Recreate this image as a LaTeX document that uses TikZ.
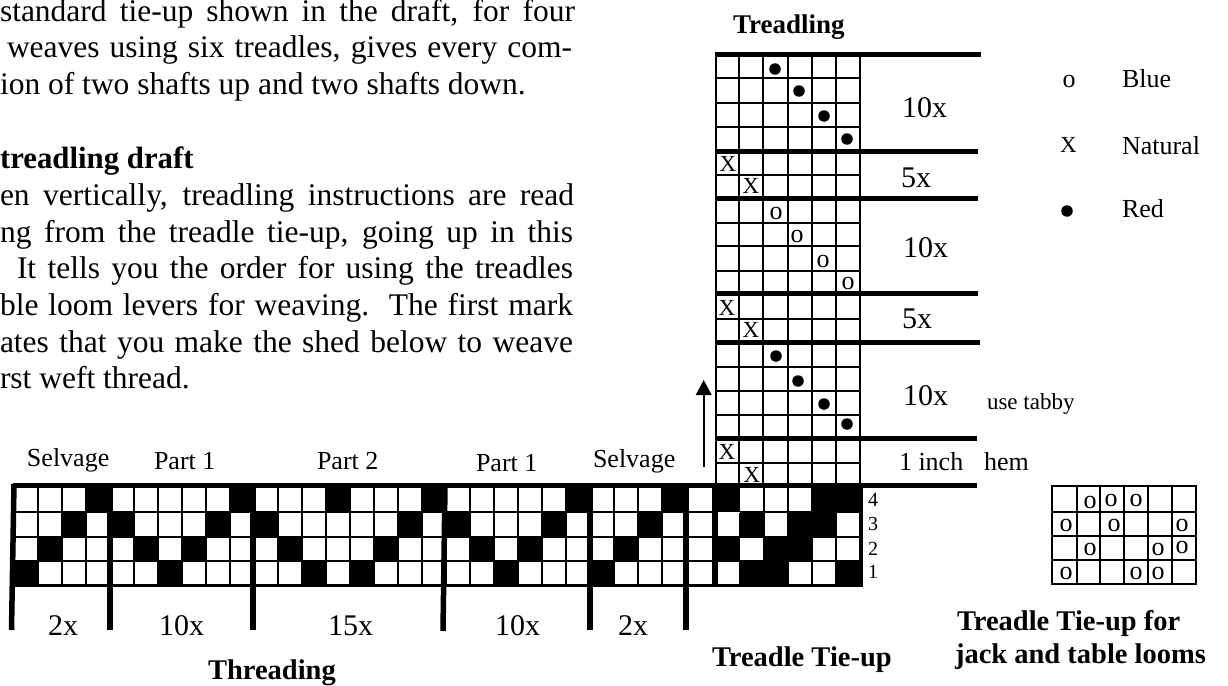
\documentclass[tikz,border=0pt]{standalone}
\usepackage{fontspec}
\setmainfont{Liberation Serif}
\usetikzlibrary{arrows.meta}
\newcommand{\fsz}[1]{\fontsize{#1}{#1}\selectfont}
\newcommand{\jline}[2]{\makebox[#1pt][s]{#2}}
\tikzset{
  txt/.style={anchor=base west,inner sep=0pt,outer sep=0pt,text=black},
  body/.style={txt,font=\fsz{31.5}},
  bodyb/.style={txt,font=\fsz{30.8}\bfseries},
  head/.style={txt,font=\fsz{28.5}\bfseries},
  count/.style={txt,font=\fsz{30}},
  part/.style={txt,font=\fsz{26}},
  legend/.style={txt,font=\fsz{26}},
  shaftno/.style={txt,font=\fsz{20}},
  markx/.style={anchor=center,inner sep=0pt,font=\fsz{23}},
  marko/.style={anchor=center,inner sep=0pt,font=\fsz{26}},
  dotm/.style={circle,fill=black,inner sep=0pt,minimum size=11.5pt},
  gridln/.style={line width=1.9pt,black},
  thinln/.style={line width=1.7pt,black},
  thickln/.style={line width=5pt,black},
  tickln/.style={line width=5.5pt,black},
}
\begin{document}
\begin{tikzpicture}[x=1pt,y=-1pt]
\useasboundingbox[fill=white] (0,0) rectangle (1228,685);

% --- threading: black cells
\foreach \x/\r in {14/1,38/2,62/3,86/4,110/3,134/2,158/1,182/2,206/3,230/4,254/3,278/2,302/1,326/4,350/1,374/2,398/3,422/4,446/3,470/2,494/1,518/2,542/3,566/4,590/1,614/2,638/3,662/4}{
  \pgfmathsetmacro{\yt}{488+(4-\r)*24.3}
  \fill[black] (\x,\yt) rectangle ++(24,24.3);
}
% --- tie-up: black cells
\foreach \x/\r in {715/4,715/2,739.3/3,739.3/1,763.6/2,763.6/1,787.9/3,787.9/2,812.2/4,812.2/3,836.5/4,836.5/1}{
  \pgfmathsetmacro{\yt}{488+(4-\r)*24.3}
  \fill[black] (\x,\yt) rectangle ++(24.3,24.3);
}
% --- threading and tie-up grid lines
\foreach \k in {0,...,28}{
  \pgfmathsetmacro{\xx}{14+24*\k}
  \draw[gridln] (\xx,486) -- (\xx,586);
}
\foreach \xx in {739.5,764,788,812,836,860.5}{
  \draw[gridln] (\xx,486) -- (\xx,586);
}
\foreach \yy in {512.3,536.6,560.9}{
  \draw[gridln] (13,\yy) -- (861,\yy);
}
\draw[line width=2.4pt] (13,585.3) -- (861,585.3);
\draw[line width=5pt] (13,485.5) -- (862,485.5);
\draw[tickln] (715,485) -- (715,587);
\fill[black] (859,486) rectangle (862.5,586.5);
\draw[white,line width=0.8pt] (718,512) -- (740,512);

% --- threading repeat ticks
\coordinate (t0a) at (14,484); \coordinate (t0b) at (11.5,630);
\coordinate (t1a) at (110,486); \coordinate (t1b) at (110,630);
\coordinate (t2a) at (253,486); \coordinate (t2b) at (253,630);
\coordinate (t3a) at (445,486); \coordinate (t3b) at (443,631);
\coordinate (t4a) at (590,486); \coordinate (t4b) at (590,630);
\coordinate (t5a) at (686,486); \coordinate (t5b) at (686,630);
\foreach \i in {0,...,5}{ \draw[tickln] (t\i a) -- (t\i b); }

% --- treadling grid
\foreach \xx in {716,739,763,788,812,836,860}{
  \draw[thinln] (\xx,52) -- (\xx,485);
}
\foreach \yy in {78,103,127,175,223,246,271,319,367,391,415,463}{
  \draw[thinln] (715,\yy) -- (861,\yy);
}
\foreach \yy/\xe in {54.5/981,151/978,198/978,293/978,342/980,438/977,485.5/977}{
  \draw[thickln] (715,\yy) -- (\xe,\yy);
}
% marks
\foreach \x/\y in {775/69,799/91,824/116,847/139,776/356,798/381,824/404,847/424}{
  \node[dotm] (dot-\x-\y) at (\x,\y) {};
}
\foreach \x/\y in {728/164,751/186,727/308,751/330,727/452,752/475}{
  \node[markx] (x-\x-\y) at (\x,\y) {X};
}
\foreach \x/\y in {776/213,797/236,823/261,848/283}{
  \node[marko] (o-\x-\y) at (\x,\y) {o};
}

% --- arrow
\coordinate (arrowfoot) at (703.7,467);
\coordinate (arrowtip) at (703.7,380);
\draw[line width=1.8pt,-{Triangle[length=15pt,width=15.6pt]}] (arrowfoot) -- (arrowtip);

% --- repeat counts on treadling
\node[count] (c1) at (902,117) {10x};
\node[count] (c2) at (901,187) {5x};
\node[count] (c3) at (903,257) {10x};
\node[count] (c4) at (902,328) {5x};
\node[count] (c5) at (903,405) {10x};
\node[part] (inch) at (899,470) {1 inch};
\node[part] (hem) at (984,470) {hem};
\node[txt,font=\fsz{23}] (tabby) at (987,409) {use tabby};

% --- threading labels
\node[part] (s1) at (27,466) {Selvage};
\node[part] (p1) at (154,469) {Part 1};
\node[part] (p2) at (317,469) {Part 2};
\node[part] (p3) at (476,471) {Part 1};
\node[part] (s2) at (593,467) {Selvage};
\node[count] (n1) at (48,635) {2x};
\node[count] (n2) at (159,635) {10x};
\node[count] (n3) at (328,635) {15x};
\node[count] (n4) at (495,635) {10x};
\node[count] (n5) at (618,635) {2x};
\node[shaftno] (sh4) at (868,506) {4};
\node[shaftno] (sh3) at (868,530) {3};
\node[shaftno] (sh2) at (868,555) {2};
\node[shaftno] (sh1) at (868,578) {1};

% --- jack and table loom tie-up
\foreach \xx in {1052,1077,1100,1124,1148,1172,1196}{
  \draw[thinln] (\xx,485) -- (\xx,585);
}
\foreach \yy in {486,512,536,560,584}{
  \draw[thinln] (1051,\yy) -- (1197,\yy);
}
\foreach \x/\y in {1090/502,1111/500,1136/500,1066/525,1114/525,1182/525,1090/549,1158/549,1182/547,1066/573,1136/573,1158/573}{
  \node[marko] (j-\x-\y) at (\x,\y) {o};
}

% --- legend
\node[marko] (lo) at (1069,82) {o};
\node[markx] (lx) at (1068.5,145) {X};
\node[dotm] (ld) at (1067,211) {};
\node[legend] (blue) at (1122,88) {Blue};
\node[legend] (natural) at (1122,154) {Natural};
\node[legend] (red) at (1122,217) {Red};

% --- captions
\node[txt,font=\fsz{27}\bfseries] (treadling) at (733,34) {Treadling};
\node[head] (threading) at (208,679) {Threading};
\node[head] (tieup) at (712,666) {Treadle Tie-up};
\node[head] (jack1) at (957,630) {Treadle Tie-up for};
\node[head] (jack2) at (955,663) {jack and table looms};

% --- body text
\node[body] (b1) at (0,22) {\jline{575}{standard tie-up shown in the draft, for four}};
\node[body] (b2) at (7,58) {\jline{565}{weaves using six treadles, gives every com-}};
\node[body] (b3) at (0,94) {ion of two shafts up and two shafts down.};
\node[bodyb] (b4) at (0,168) {treadling draft};
\node[body] (b5) at (0,205) {\jline{574}{en vertically, treadling instructions are read}};
\node[body] (b6) at (0,242) {\jline{573}{ng from the treadle tie-up, going up in this}};
\node[body] (b7) at (17,278) {\jline{556}{It tells you the order for using the treadles}};
\node[body] (b8) at (0,315) {\jline{573}{ble loom levers for weaving.\ \ The first mark}};
\node[body] (b9) at (0,352) {\jline{573}{ates that you make the shed below to weave}};
\node[body] (b10) at (0,388) {rst weft thread.};
\end{tikzpicture}
\end{document}
